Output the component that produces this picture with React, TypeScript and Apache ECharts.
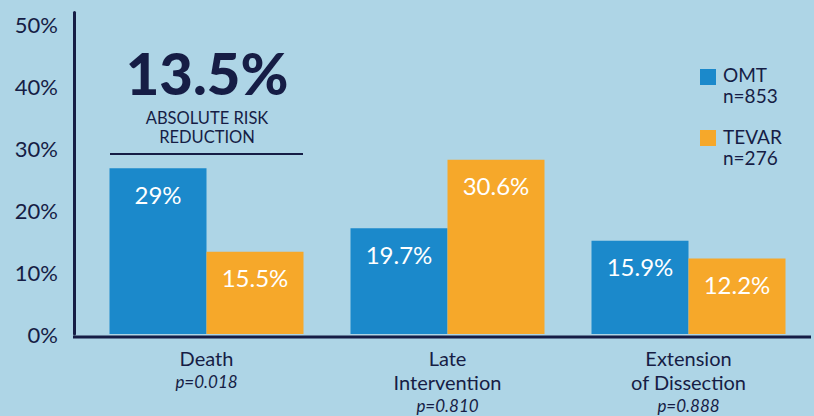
import React, { useEffect, useRef } from "react";
import * as echarts from "echarts";

const categories = ["Death", "Late\nIntervention", "Extension\nof Dissection"];
const pValues = ["p=0.018", "p=0.810", "p=0.888"];
const seriesNames = ["OMT", "TEVAR"];
const seriesCounts = ["n=853", "n=276"];
// bar heights as drawn in the picture (%), and the printed values
const omtHeights = [26.8, 17.1, 15.1];
const tevarHeights = [13.3, 28.2, 12.2];
const omtLabels = ["29%", "19.7%", "15.9%"];
const tevarLabels = ["15.5%", "30.6%", "12.2%"];
const yTicks = [0, 10, 20, 30, 40, 50];
const annotationValue = "13.5%";
const annotationText = "ABSOLUTE RISK\nREDUCTION";

const NAVY = "#161d45";
const BLUE = "#1b89cb";
const ORANGE = "#f6a82a";
const BG = "#aed5e6";
const FONT = "Lato, 'Open Sans', sans-serif";

export default function App() {
  const ref = useRef<HTMLDivElement>(null);
  useEffect(() => {
    document.body.style.margin = "0";
    const chart = echarts.init(ref.current!, undefined, { renderer: "svg" });
    const labelStyle = (labels: string[]) => ({
      show: true,
      position: "insideTop",
      distance: 13,
      color: "#ffffff",
      fontSize: 24,
      lineHeight: 26,
      fontFamily: FONT,
      formatter: (p: any) => labels[p.dataIndex],
    });
    chart.setOption({
      animation: false,
      backgroundColor: BG,
      textStyle: { fontFamily: FONT },
      grid: { left: 86, right: 5, top: 12.5, bottom: 79 },
      xAxis: {
        type: "category",
        data: categories,
        axisLine: { show: false },
        axisTick: { show: false },
        axisLabel: {
          margin: 12,
          color: NAVY,
          fontSize: 20,
          lineHeight: 24,
          fontFamily: FONT,
          formatter: (v: string, i: number) => `${v}\n{p|${pValues[i]}}`,
          rich: {
            p: { fontSize: 17, fontStyle: "italic", color: NAVY, lineHeight: 22, fontFamily: FONT },
          },
        },
      },
      yAxis: {
        type: "value",
        min: yTicks[0],
        max: 52,
        interval: 10,
        offset: 12,
        axisLine: { show: true, lineStyle: { color: NAVY, width: 3 } },
        axisTick: { show: false },
        splitLine: { show: false },
        axisLabel: {
          showMaxLabel: false,
          margin: 16,
          color: NAVY,
          fontSize: 22,
          fontFamily: FONT,
          formatter: "{value}%",
        },
      },
      series: [
        {
          name: seriesNames[0],
          type: "bar",
          data: omtHeights,
          barWidth: 97,
          barGap: "0%",
          itemStyle: { color: BLUE },
          label: labelStyle(omtLabels),
        },
        {
          name: seriesNames[1],
          type: "bar",
          data: tevarHeights,
          barWidth: 97,
          barGap: "0%",
          itemStyle: { color: ORANGE },
          label: labelStyle(tevarLabels),
        },
      ],
      graphic: [
        { type: "line", shape: { x1: 73, y1: 337, x2: 811, y2: 337 }, style: { stroke: NAVY, lineWidth: 3 } },
        {
          type: "text",
          x: 207,
          y: 72,
          style: {
            text: annotationValue,
            fill: NAVY,
            font: `900 58px ${FONT}`,
            lineHeight: 48,
            textAlign: "center",
            textVerticalAlign: "middle",
          },
        },
        {
          type: "text",
          x: 207,
          y: 127.5,
          style: {
            text: annotationText,
            fill: NAVY,
            font: `400 16.5px ${FONT}`,
            lineHeight: 19,
            textAlign: "center",
            textVerticalAlign: "middle",
          },
        },
        { type: "line", shape: { x1: 110, y1: 154, x2: 303, y2: 154 }, style: { stroke: NAVY, lineWidth: 2 } },
        { type: "rect", shape: { x: 700, y: 69, width: 16, height: 16 }, style: { fill: BLUE } },
        {
          type: "text",
          x: 723,
          y: 84.5,
          style: {
            text: `${seriesNames[0]}\n${seriesCounts[0]}`,
            fill: NAVY,
            font: `400 19px ${FONT}`,
            lineHeight: 21,
            textAlign: "left",
            textVerticalAlign: "middle",
          },
        },
        { type: "rect", shape: { x: 700, y: 130, width: 16, height: 16 }, style: { fill: ORANGE } },
        {
          type: "text",
          x: 723,
          y: 147,
          style: {
            text: `${seriesNames[1]}\n${seriesCounts[1]}`,
            fill: NAVY,
            font: `400 19px ${FONT}`,
            lineHeight: 21,
            textAlign: "left",
            textVerticalAlign: "middle",
          },
        },
      ],
    });
    return () => chart.dispose();
  }, []);
  return <div ref={ref} style={{ width: 814, height: 416 }} />;
}
